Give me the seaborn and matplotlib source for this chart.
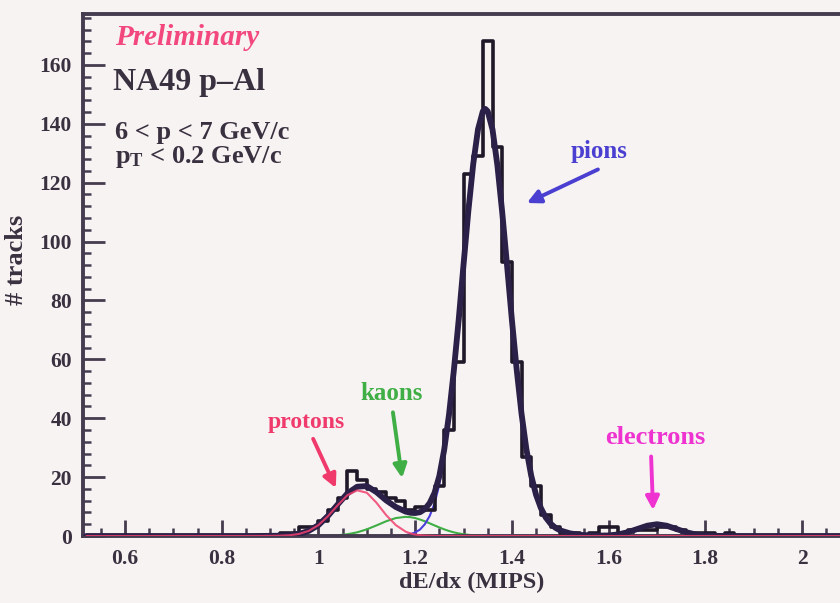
import numpy as np
import pandas as pd
import matplotlib
matplotlib.use("Agg")
import matplotlib.pyplot as plt
from matplotlib.ticker import MultipleLocator, FixedLocator, FixedFormatter
import seaborn as sns

# ---------------- data ----------------
bin_width = 0.02
bin_lefts = np.round(np.arange(0.52, 2.08 - 1e-9, bin_width), 2)
hist_counts = ([0] * 19 +                      # 0.52 .. 0.88
               [0, 1, 1, 3, 3, 5, 9, 13, 22, 19, 16, 15, 13, 12, 9,   # 0.90 .. 1.18
                10, 9, 17, 36, 59, 123, 129, 168, 132, 93, 59, 27, 17, 7, 3,  # 1.20 .. 1.48
                1, 1, 0, 1, 3, 3, 1, 2, 2, 2, 3, 3, 2, 1, 1, 1, 0, 1] +  # 1.50 .. 1.84
               [0] * 11)                        # 1.86 .. 2.06

curve_x = [0.52, 0.60, 0.70, 0.80, 0.86,
           0.90, 0.92, 0.94, 0.96, 0.98, 1.00, 1.02, 1.04, 1.06, 1.08,
           1.10, 1.12, 1.14, 1.16, 1.18, 1.19, 1.20, 1.21, 1.22, 1.23,
           1.24, 1.25, 1.26, 1.27, 1.28, 1.29, 1.30, 1.31, 1.32, 1.33,
           1.34, 1.345, 1.35, 1.36, 1.37, 1.38, 1.39, 1.40, 1.41, 1.42,
           1.43, 1.44, 1.45, 1.46, 1.47, 1.48, 1.49, 1.50, 1.52, 1.54,
           1.56, 1.58, 1.60, 1.62, 1.64, 1.66, 1.68, 1.70, 1.72, 1.74,
           1.76, 1.78, 1.80, 1.82, 1.84, 1.90, 2.00, 2.09]

protons = ([0] * 5 +
           [0.05, 0.1, 0.25, 0.7, 1.75, 3.7, 6.8, 10.5, 13.9, 15.5,
            14.7, 11.3, 7.1, 3.7, 1.5, 0.9, 0.5, 0.28, 0.14, 0.07, 0.03] +
           [0] * 47)

kaons = ([0] * 11 +
         [0.09, 0.25, 0.6, 1.24, 2.26, 3.6, 5.0, 6.1, 6.5, 6.4,
          6.1, 5.6, 5.0, 4.3, 3.6, 2.9, 2.26, 1.7, 1.24, 0.88,
          0.6, 0.4, 0.25, 0.16, 0.09, 0.07, 0.06, 0.03] +
         [0] * 34)

pions = ([0] * 18 +
         [0.05, 0.3, 0.6, 1.2, 2.2, 4.0, 6.8, 11.0, 17.5, 27.0,
          39.5, 55.0, 72.5, 91.5, 110.0, 126.0, 138.0, 144.2, 145.0, 144.2,
          138.0, 126.0, 110.0, 92.0, 73.5, 56.5, 41.5, 29.5, 20.5, 14.0,
          9.5, 6.3, 4.2, 2.8, 1.9, 0.9, 0.4, 0.2, 0.1] +
         [0] * 16)

electrons = ([0] * 55 +
             [0.01, 0.04, 0.18, 0.54, 1.3, 2.4, 3.5, 4.0, 3.5, 2.4,
              1.3, 0.54, 0.18, 0.04, 0.01] +
             [0] * 3)

x_ticks = [0.6, 0.8, 1.0, 1.2, 1.4, 1.6, 1.8, 2.0]
x_tick_labels = ["0.6", "0.8", "1", "1.2", "1.4", "1.6", "1.8", "2"]
y_ticks = [0, 20, 40, 60, 80, 100, 120, 140, 160]

# ---------------- style ----------------
sns.set_style("ticks")
plt.rcParams["font.family"] = ["Liberation Serif", "DejaVu Serif"]
plt.rcParams["font.weight"] = "bold"
plt.rcParams["mathtext.fontset"] = "custom"
plt.rcParams["mathtext.rm"] = "Liberation Serif:bold"
plt.rcParams["mathtext.it"] = "Liberation Serif:italic:bold"
plt.rcParams["mathtext.bf"] = "Liberation Serif:bold"

bg = "#f7f3f3"
axis_col = "#463c50"
text_col = "#3a3140"

fig = plt.figure(figsize=(8.4, 6.03), dpi=100, facecolor=bg)
ax = fig.add_axes([83 / 840, 67 / 603, 762 / 840, 522 / 603], facecolor=bg)

hist_df = pd.DataFrame({"x": bin_lefts + bin_width / 2,
                        "w": np.asarray(hist_counts, dtype=float)})
curve_df = pd.DataFrame({"x": curve_x, "p": protons, "k": kaons,
                         "pi": pions, "e": electrons})
curve_df["total"] = curve_df[["p", "k", "pi", "e"]].sum(axis=1)

# component curves (underneath)
sns.lineplot(data=curve_df, x="x", y="k", color="#3fae45", linewidth=1.5,
             ax=ax, estimator=None, sort=False, zorder=2)
sns.lineplot(data=curve_df, x="x", y="pi", color="#4a3fdc", linewidth=1.5,
             ax=ax, estimator=None, sort=False, zorder=2)
sns.lineplot(data=curve_df, x="x", y="e", color="#9a2a6a", linewidth=1.5,
             ax=ax, estimator=None, sort=False, zorder=2)

# histogram
sns.histplot(data=hist_df, x="x", weights="w", binwidth=bin_width,
             binrange=(0.52, 2.08), element="step",
             fill=False, color="#1e1828", linewidth=2.6, ax=ax, zorder=3)

# total fit on top
sns.lineplot(data=curve_df, x="x", y="total", color="#2a2048", linewidth=4.2,
             ax=ax, estimator=None, sort=False, zorder=4)
sns.lineplot(data=curve_df, x="x", y="p", color="#f0406e", linewidth=1.5,
             ax=ax, estimator=None, sort=False, zorder=5, alpha=0.85)

ax.set_xlim(0.513, 2.089)
ax.set_ylim(0, 177.3)

# ticks
ax.xaxis.set_major_locator(FixedLocator(x_ticks))
ax.xaxis.set_major_formatter(FixedFormatter(x_tick_labels))
ax.xaxis.set_minor_locator(MultipleLocator(0.05))
ax.yaxis.set_major_locator(FixedLocator(y_ticks))
ax.yaxis.set_minor_locator(MultipleLocator(4))
ax.tick_params(axis="both", which="both", direction="in", color=axis_col,
               labelcolor=text_col, labelsize=15.5)
ax.tick_params(axis="y", which="major", length=16, width=2.0, pad=8)
ax.tick_params(axis="y", which="minor", length=6, width=1.8)
ax.tick_params(axis="x", which="major", length=11.5, width=2.0, pad=9)
ax.tick_params(axis="x", which="minor", length=5.5, width=1.8)
ax.tick_params(top=False, right=False, which="both")
for lab in ax.get_xticklabels() + ax.get_yticklabels():
    lab.set_fontweight("bold")

for side in ["left", "bottom", "top"]:
    ax.spines[side].set_color(axis_col)
    ax.spines[side].set_linewidth(2.8)
ax.spines["right"].set_visible(False)
ax.spines["top"].set_visible(True)

ax.set_xlabel("dE/dx (MIPS)", fontsize=17.5, fontweight="bold", color=text_col)
ax.xaxis.set_label_coords((472 - 83) / 762, -(572 - 536) / 522)
ax.set_ylabel("# tracks", fontsize=19, fontweight="bold", color=text_col)
ax.yaxis.set_label_coords(-(83 - 28) / 762, (536 - 260) / 522)

# header texts
ax.text(0.580, 166.8, "Preliminary", color="#f2487e", fontsize=21,
        fontstyle="italic", fontweight="bold", va="baseline", ha="left")
ax.text(0.576, 151.5, "NA49 p\u2013Al", color=text_col, fontsize=23,
        fontweight="bold", va="baseline", ha="left")
ax.text(0.580, 134.8, "6 < p < 7 GeV/c", color=text_col, fontsize=19,
        fontweight="bold", va="baseline", ha="left")
ax.text(0.580, 126.7, r"p$_{\mathrm{T}}$ < 0.2 GeV/c", color=text_col,
        fontsize=19, fontweight="bold", va="baseline", ha="left")

# particle annotations
def label(txt, xy_text, xy_tail, xy_head, col, size):
    ax.text(xy_text[0], xy_text[1], txt, color=col, fontsize=size,
            fontweight="bold", ha="center", va="baseline")
    ax.annotate("", xy=xy_head, xytext=xy_tail,
                arrowprops=dict(arrowstyle="-|>", color=col, lw=2.8,
                                mutation_scale=20, shrinkA=0, shrinkB=0))

label("pions", (1.580, 128.4), (1.578, 124.5), (1.431, 113.1), "#4a3fd0", 18)
label("protons", (0.974, 36.7), (0.989, 33.0), (1.036, 16.3), "#f03a6c", 17)
label("kaons", (1.152, 46.2), (1.154, 42.0), (1.173, 19.7), "#3fae45", 18)
label("electrons", (1.696, 31.2), (1.688, 27.0), (1.692, 8.8), "#ee33d0", 19)

fig.savefig("out.png", dpi=100, facecolor=bg)
